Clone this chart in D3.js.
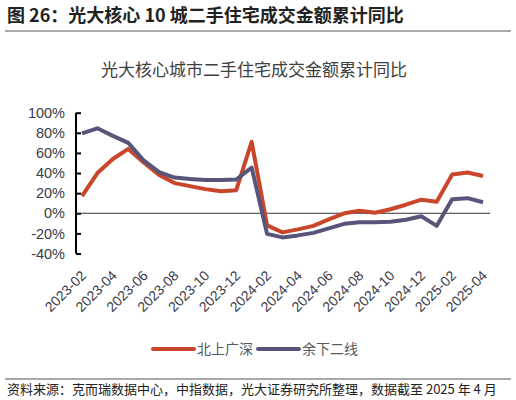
<!doctype html>
<html>
<head>
<meta charset="utf-8">
<script src="https://d3js.org/d3.v7.min.js"></script>
<style>
  body { margin: 0; background: #fff; }
  text { font-family: "Noto Sans CJK SC", "Liberation Sans", sans-serif; }
</style>
</head>
<body>
<svg id="chart" width="516" height="400"></svg>
<script>
// months 2023-02 .. 2025-04
var months = [];
for (var y = 2023; y <= 2025; y++) {
  for (var m = 1; m <= 12; m++) {
    if ((y == 2023 && m < 2) || (y == 2025 && m > 4)) continue;
    months.push(y + "-" + (m < 10 ? "0" + m : m));
  }
}
var seriesNames = ["北上广深", "余下二线"];
var tier1 = [17, 40, 54, 64, 50.5, 38, 30, 27, 24, 22, 23, 71, -12, -19, -16, -12.5, -6, 0, 2.5, 0.5, 4, 8.5, 13.5, 11.5, 38.5, 40.5, 37];
var tier2 = [79.5, 84.5, 77, 70, 52.5, 41, 35.5, 34, 33, 33, 33.5, 45.5, -20.5, -24, -22, -19.5, -15, -10.5, -9, -9, -8.5, -6.5, -3, -12.5, 14, 15, 11];
var yTicks = [100, 80, 60, 40, 20, 0, -20, -40];
var colors = ["#c9462b", "#575579"];

var svg = d3.select("#chart");

// header
svg.append("text").attr("x", 7).attr("y", 22)
  .attr("font-size", 18).attr("font-weight", "bold").attr("fill", "#222")
  .text("图 26：光大核心 10 城二手住宅成交金额累计同比");
svg.append("line").attr("x1", 5).attr("x2", 511).attr("y1", 31).attr("y2", 31)
  .attr("stroke", "#555").attr("stroke-width", 1.2);

svg.append("text").attr("x", 254).attr("y", 76).attr("text-anchor", "middle")
  .attr("font-size", 17).attr("fill", "#404040")
  .text("光大核心城市二手住宅成交金额累计同比");

var x = d3.scalePoint().domain(months).range([82, 483]);
var yScale = d3.scaleLinear().domain([-40, 100]).range([253.5, 112.7]);

// y axis
var yAxis = d3.axisLeft(yScale).tickValues(yTicks).tickSize(-5).tickPadding(11)
  .tickFormat(d => d + "%");
var yg = svg.append("g").attr("transform", "translate(76,0)").call(yAxis);
yg.select(".domain").attr("stroke", "#000").attr("stroke-width", 2).attr("d", "M0," + yScale(100) + "V" + yScale(-40));
yg.selectAll(".tick line").attr("stroke", "#000").attr("stroke-width", 2);
yg.selectAll(".tick text").attr("font-size", 14.5).attr("fill", "#3a3a48")
  .style("font-family", "'Liberation Sans', sans-serif");

// zero line
svg.append("line").attr("x1", 76).attr("x2", 490)
  .attr("y1", yScale(0)).attr("y2", yScale(0))
  .attr("stroke", "#333").attr("stroke-width", 1);

// x axis labels
var xAxis = d3.axisBottom(x).tickValues(months.filter((d, i) => i % 2 == 0)).tickSize(0).tickPadding(0);
var xg = svg.append("g").attr("transform", "translate(1,273)").call(xAxis);
xg.select(".domain").remove();
xg.selectAll(".tick text")
  .attr("font-size", 14).attr("fill", "#3a3a48")
  .style("font-family", "'Liberation Sans', sans-serif")
  .attr("text-anchor", "end").attr("dy", "0.35em").attr("y", 0)
  .attr("transform", "rotate(-45)");

// lines
var line = d3.line().x((d, i) => x(months[i])).y(d => yScale(d));
[tier1, tier2].forEach(function (s, k) {
  svg.append("path").datum(s).attr("d", line)
    .attr("fill", "none").attr("stroke", colors[k]).attr("stroke-width", 4)
    .attr("stroke-linejoin", "round");
});

// legend
var lg = svg.append("g").attr("transform", "translate(153,349)");
seriesNames.forEach(function (n, k) {
  var g = lg.append("g").attr("transform", "translate(" + (k * 105) + ",0)");
  g.append("line").attr("x1", 0).attr("x2", 41).attr("stroke", colors[k])
    .attr("stroke-width", 4).attr("stroke-linecap", "round");
  g.append("text").attr("x", 44).attr("y", 5).attr("font-size", 14).attr("fill", "#595959").text(n);
});

// footer
svg.append("line").attr("x1", 5).attr("x2", 511).attr("y1", 379).attr("y2", 379)
  .attr("stroke", "#555").attr("stroke-width", 1.2);
svg.append("text").attr("x", 7).attr("y", 394).attr("font-size", 13).attr("fill", "#222")
  .text("资料来源：克而瑞数据中心，中指数据，光大证券研究所整理，数据截至 2025 年 4 月");
</script>
</body>
</html>
